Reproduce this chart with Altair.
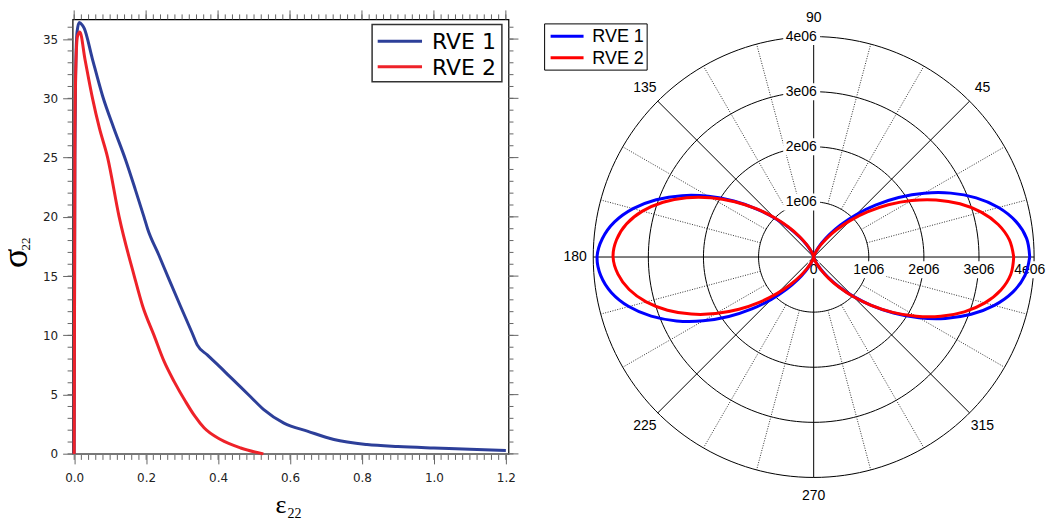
import altair as alt
import pandas as pd

# ---------------- Left panel: stress-strain curves ----------------
series_names = ["RVE 1", "RVE 2"]
left_colors = ["#2d3f99", "#ee2229"]
right_colors = ["#0000ff", "#ff0000"]
eps_rve1 = [0.0, 0.002, 0.004, 0.008, 0.014, 0.022, 0.028, 0.05, 0.079, 0.11, 0.143, 0.17, 0.194, 0.204,
            0.235, 0.264, 0.295, 0.328, 0.342, 0.37, 0.398, 0.435, 0.486, 0.527, 0.583, 0.65, 0.722,
            0.814, 0.9, 1.0, 1.1, 1.2]
sig_rve1 = [0.0, 25.0, 32.0, 35.6, 36.4, 36.2, 35.9, 33.4, 30.2, 27.5, 24.8, 22.3, 20.0, 19.0,
            16.8, 14.7, 12.5, 10.2, 9.2, 8.35, 7.55, 6.45, 4.95, 3.74, 2.6, 1.9, 1.21,
            0.79, 0.62, 0.5, 0.4, 0.28]
eps_rve2 = [0.0, 0.002, 0.005, 0.009, 0.0158, 0.03, 0.051, 0.07, 0.093, 0.125, 0.167, 0.19, 0.222,
            0.25, 0.278, 0.31, 0.335, 0.361, 0.407, 0.463, 0.526]
sig_rve2 = [0.0, 27.0, 33.0, 35.2, 35.6, 33.3, 30.0, 27.5, 25.0, 20.0, 15.0, 12.5, 10.0,
            7.8, 6.1, 4.4, 3.2, 2.2, 1.21, 0.5, 0.0]
x_major = [0.0, 0.2, 0.4, 0.6, 0.8, 1.0, 1.2]
x_minor = [round(0.02 * i, 2) for i in range(61)]
y_major = [0, 5, 10, 15, 20, 25, 30, 35]
y_minor = list(range(0, 37))

# ---------------- Right panel: polar plot (radius in units of 1e06) ----------------
polar_angles = list(range(0, 361, 5))
r_rve1 = [3.92, 3.878, 3.725, 3.473, 3.138, 2.744, 2.317, 1.882, 1.464, 1.086, 0.759, 0.496,
          0.298, 0.159, 0.072, 0.026, 0.006, 0.0, 0.0, 0.0, 0.004, 0.019, 0.057, 0.132,
          0.256, 0.438, 0.685, 0.996, 1.362, 1.771, 2.204, 2.635, 3.040, 3.393, 3.669, 3.848,
          3.93, 3.878, 3.725, 3.473, 3.138, 2.744, 2.317, 1.882, 1.464, 1.086, 0.759, 0.496,
          0.298, 0.159, 0.072, 0.026, 0.006, 0.0, 0.0, 0.0, 0.004, 0.019, 0.057, 0.132,
          0.256, 0.438, 0.685, 0.996, 1.362, 1.771, 2.204, 2.635, 3.040, 3.393, 3.669, 3.848,
          3.92]
r_rve2 = [3.63, 3.565, 3.400, 3.147, 2.823, 2.450, 2.053, 1.653, 1.273, 0.934, 0.645, 0.414,
          0.243, 0.126, 0.055, 0.018, 0.004, 0.0, 0.0, 0.0, 0.006, 0.024, 0.069, 0.151,
          0.280, 0.466, 0.711, 1.014, 1.364, 1.751, 2.152, 2.545, 2.909, 3.217, 3.450, 3.591,
          3.64, 3.565, 3.400, 3.147, 2.823, 2.450, 2.053, 1.653, 1.273, 0.934, 0.645, 0.414,
          0.243, 0.126, 0.055, 0.018, 0.004, 0.0, 0.0, 0.0, 0.006, 0.024, 0.069, 0.151,
          0.280, 0.466, 0.711, 1.014, 1.364, 1.751, 2.152, 2.545, 2.909, 3.217, 3.450, 3.591,
          3.63]
ring_radii = [1, 2, 3, 4]
ring_labels = ["1e06", "2e06", "3e06", "4e06"]
solid_spokes = [0, 45, 90, 135, 180, 225, 270, 315]
dotted_spokes = [15, 30, 60, 75, 105, 120, 150, 165, 195, 210, 240, 255, 285, 300, 330, 345]
angle_labels = ["0", "45", "90", "135", "180", "225", "270", "315"]


def manual_legend(names, colors, box, line_x, rows, text_x, font, size, box_stroke, box_sw):
    layers = [alt.Chart(pd.DataFrame({"k": [0]})).mark_rect(
        fill="white", stroke=box_stroke, strokeWidth=box_sw).encode(
        x=alt.value(box[0]), x2=alt.value(box[1]), y=alt.value(box[2]), y2=alt.value(box[3]))]
    for name, col, ry in zip(names, colors, rows):
        layers.append(alt.Chart(pd.DataFrame({"k": [0]})).mark_rule(strokeWidth=3, color=col).encode(
            x=alt.value(line_x[0]), x2=alt.value(line_x[1]), y=alt.value(ry)))
        layers.append(alt.Chart(pd.DataFrame({"t": [name]})).mark_text(
            align="left", baseline="middle", font=font, fontSize=size, color="black").encode(
            text="t:N", x=alt.value(text_x), y=alt.value(ry + 1)))
    return layers


# =================== LEFT CHART ===================
W, H = 436.6, 435.2
xsc = alt.Scale(domain=[-0.0044, 1.2073], nice=False, zero=False)
ysc = alt.Scale(domain=[0, 36.66], nice=False, zero=False)
TICK = "#666666"
x_axis = alt.Axis(values=x_major, format=".1f", tickSize=10, tickColor=TICK, domain=False, grid=False,
                  labelFont="DejaVu Sans", labelFontSize=12, labelColor="#222222", labelPadding=9,
                  labelFlush=False, title=None)
y_axis = alt.Axis(values=y_major, tickSize=10, tickColor=TICK, domain=False, grid=False,
                  labelFont="DejaVu Sans", labelFontSize=12, labelColor="#222222", labelPadding=5,
                  labelFlush=False, title=None)

line_df = pd.DataFrame({
    "eps": eps_rve1 + eps_rve2,
    "sig": sig_rve1 + sig_rve2,
    "series": [series_names[0]] * len(eps_rve1) + [series_names[1]] * len(eps_rve2),
})

lines_left = alt.Chart(line_df).mark_line(strokeWidth=3, interpolate="monotone").encode(
    x=alt.X("eps:Q", scale=xsc, axis=x_axis),
    y=alt.Y("sig:Q", scale=ysc, axis=y_axis),
    color=alt.Color("series:N", scale=alt.Scale(domain=series_names, range=left_colors), legend=None),
)


def vticks(values, y0, y1):
    return alt.Chart(pd.DataFrame({"eps": values})).mark_rule(color=TICK, strokeWidth=1).encode(
        x=alt.X("eps:Q", scale=xsc, axis=x_axis), y=alt.value(y0), y2=alt.value(y1))


def hticks(values, x0, x1):
    return alt.Chart(pd.DataFrame({"sig": values})).mark_rule(color=TICK, strokeWidth=1).encode(
        y=alt.Y("sig:Q", scale=ysc, axis=y_axis), x=alt.value(x0), x2=alt.value(x1))


zero_line = alt.Chart(pd.DataFrame({"sig": [0]})).mark_rule(color="#777777", strokeWidth=2).encode(
    y=alt.Y("sig:Q", scale=ysc, axis=y_axis), x=alt.value(0), x2=alt.value(W))

sig_title = alt.Chart(pd.DataFrame({"t": ["σ"]})).mark_text(
    font="Liberation Serif", fontSize=36, angle=270, align="center", baseline="alphabetic",
    color="black").encode(text="t:N", x=alt.value(-45.2), y=alt.value(239.2))
sig_sub = alt.Chart(pd.DataFrame({"t": ["22"]})).mark_text(
    font="Liberation Serif", fontSize=13, angle=270, align="center", baseline="alphabetic",
    color="black").encode(text="t:N", x=alt.value(-43.0), y=alt.value(225.0))
eps_title = alt.Chart(pd.DataFrame({"t": ["ε"]})).mark_text(
    font="Liberation Serif", fontSize=26, align="left", baseline="alphabetic",
    color="black").encode(text="t:N", x=alt.value(203.3), y=alt.value(494.5))
eps_sub = alt.Chart(pd.DataFrame({"t": ["22"]})).mark_text(
    font="Liberation Serif", fontSize=14, align="left", baseline="alphabetic",
    color="black").encode(text="t:N", x=alt.value(215.3), y=alt.value(499.0))

left_legend = manual_legend(series_names, left_colors, (300, 430, 5.2, 62.5), (305.6, 350),
                            [21.8, 47.5], 360, "DejaVu Sans", 22, "#333333", 1.5)

left = alt.layer(
    vticks(x_minor, H, H + 6), vticks(x_minor, 0, -5), vticks(x_major, 0, -9),
    hticks(y_minor, 0, -5), hticks(y_minor, W, W + 5), hticks(y_major, W, W + 10),
    zero_line, lines_left, sig_title, sig_sub, eps_title, eps_sub, *left_legend,
).properties(width=W, height=H, view=alt.ViewBackground(stroke="black", strokeWidth=1.2))

# =================== RIGHT CHART (polar) ===================
PX = 55.2  # pixels per 1e06
RW = 502
RH = round((4.312 + 4.520) * PX, 1)
pxs = alt.Scale(domain=[-4.882, 4.212], nice=False, zero=False)
pys = alt.Scale(domain=[-4.520, 4.312], nice=False, zero=False)


def PXc(f):
    return alt.X(f, type="quantitative", scale=pxs, axis=None)


def PYc(f):
    return alt.Y(f, type="quantitative", scale=pys, axis=None)


ring_df = pd.DataFrame([{"ring": r, "a": a} for r in ring_radii for a in range(0, 361, 2)])
rings = alt.Chart(ring_df).transform_calculate(
    px="datum.ring*cos(datum.a*PI/180)", py="datum.ring*sin(datum.a*PI/180)"
).mark_line(color="black", strokeWidth=1).encode(
    x=PXc("px"), y=PYc("py"), detail="ring:N", order="a:Q")

solid = alt.Chart(pd.DataFrame({"a": solid_spokes})).transform_calculate(
    px="0", py="0", px2="4*cos(datum.a*PI/180)", py2="4*sin(datum.a*PI/180)"
).mark_rule(color="black", strokeWidth=1).encode(
    x=PXc("px"), y=PYc("py"), x2="px2:Q", y2="py2:Q")

dotted = alt.Chart(pd.DataFrame({"a": dotted_spokes})).transform_calculate(
    px="cos(datum.a*PI/180)", py="sin(datum.a*PI/180)",
    px2="4*cos(datum.a*PI/180)", py2="4*sin(datum.a*PI/180)"
).mark_rule(color="#333333", strokeWidth=1, strokeDash=[1, 1.5]).encode(
    x=PXc("px"), y=PYc("py"), x2="px2:Q", y2="py2:Q")

h_df = pd.DataFrame({"t": ["0"] + ring_labels, "r": [0] + ring_radii})
v_df = pd.DataFrame({"t": ring_labels, "r": ring_radii})

# the outermost label is nudged inwards a little so it stays inside the page
h_boxes = alt.Chart(h_df).transform_calculate(
    px="min(datum.r, 3.92)",
    bw=f"(length(datum.t)*7.8+4)/{PX}",
    bx1="datum.px - datum.bw/2", bx2="datum.px + datum.bw/2",
    by1=f"-0.232 - 8.5/{PX}", by2=f"-0.232 + 8.5/{PX}"
).mark_rect(fill="white", clip=True).encode(x=PXc("bx1"), x2="bx2:Q", y=PYc("by1"), y2="by2:Q")

v_boxes = alt.Chart(v_df).transform_calculate(
    bx1=f"-30.5/{PX}", bx2=f"6.5/{PX}",
    by1=f"datum.r - 8.5/{PX}", by2=f"datum.r + 8.5/{PX}"
).mark_rect(fill="white").encode(x=PXc("bx1"), x2="bx2:Q", y=PYc("by1"), y2="by2:Q")

h_text = alt.Chart(h_df).transform_calculate(px="min(datum.r, 3.92)", py="-0.232").mark_text(
    font="Liberation Sans", fontSize=14, color="black", align="center", baseline="middle"
).encode(x=PXc("px"), y=PYc("py"), text="t:N")

v_text = alt.Chart(v_df).transform_calculate(px=f"3.2/{PX}", py="datum.r").mark_text(
    font="Liberation Sans", fontSize=14, color="black", align="right", baseline="middle"
).encode(x=PXc("px"), y=PYc("py"), text="t:N")

ang_df = pd.DataFrame({"t": angle_labels, "a": solid_spokes})
a_text = alt.Chart(ang_df).transform_filter("datum.a > 0").transform_calculate(
    px="4.33*cos(datum.a*PI/180)", py="4.33*sin(datum.a*PI/180)"
).mark_text(font="Liberation Sans", fontSize=14, color="black", align="center",
            baseline="middle").encode(x=PXc("px"), y=PYc("py"), text="t:N")
a_text0 = alt.Chart(ang_df).transform_filter("datum.a == 0").transform_calculate(
    px="4.33*cos(datum.a*PI/180)", py="4.33*sin(datum.a*PI/180)"
).mark_text(font="Liberation Sans", fontSize=14, color="black", align="center",
            baseline="middle", clip=True).encode(x=PXc("px"), y=PYc("py"), text="t:N")

pol_df = pd.DataFrame({
    "a": polar_angles * 2,
    "r": r_rve1 + r_rve2,
    "series": [series_names[0]] * len(polar_angles) + [series_names[1]] * len(polar_angles),
})
curves = alt.Chart(pol_df).transform_calculate(
    px="datum.r*cos(datum.a*PI/180)", py="datum.r*sin(datum.a*PI/180)"
).mark_line(strokeWidth=3, interpolate="cardinal").encode(
    x=PXc("px"), y=PYc("py"), order="a:Q",
    color=alt.Color("series:N", scale=alt.Scale(domain=series_names, range=right_colors), legend=None),
)

right_legend = manual_legend(series_names, right_colors, (0, 102.7, 4.5, 50.8), (6, 39),
                             [16.8, 38.5], 47.7, "Liberation Sans", 18, "black", 1)

right = alt.layer(
    rings, dotted, solid, h_boxes, v_boxes, h_text, v_text, a_text, a_text0, curves, *right_legend
).properties(width=RW, height=RH, view=alt.ViewBackground(strokeOpacity=0))

chart = alt.hconcat(left, right, spacing=23.8).resolve_scale(color="independent").properties(
    padding={"left": -10.3, "top": 0, "right": 0, "bottom": 0}
).configure(font="DejaVu Sans")

chart.save("out.html", embed_options={"renderer": "svg", "actions": False})
